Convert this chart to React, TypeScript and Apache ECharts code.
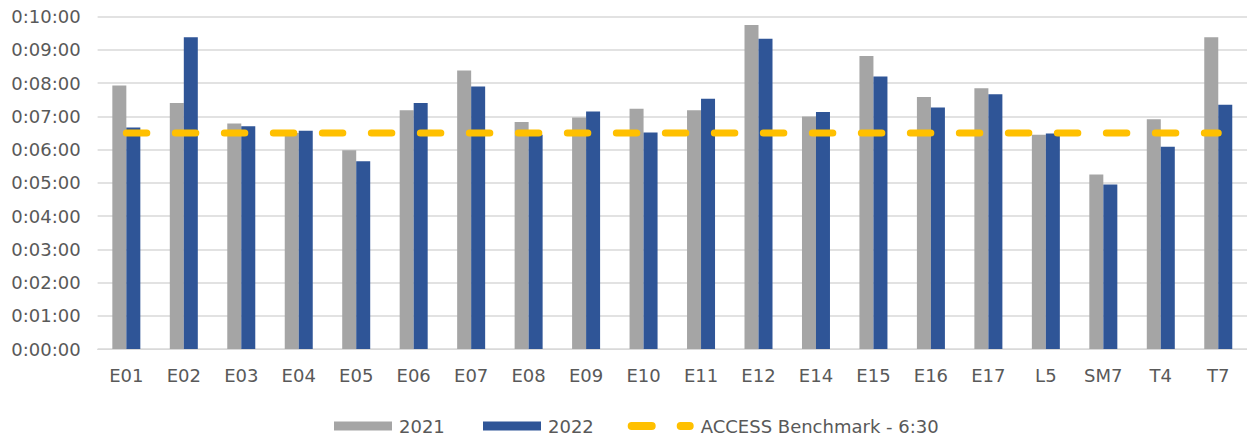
import React, { useEffect, useRef } from "react";
import * as echarts from "echarts";

const categories = ["E01","E02","E03","E04","E05","E06","E07","E08","E09","E10","E11","E12","E14","E15","E16","E17","L5","SM7","T4","T7"];
// values in seconds
const values2021 = [476, 444, 407, 390, 359, 431, 503, 410, 418, 434, 431, 585, 420, 529, 455, 471, 387, 315, 415, 563];
const values2022 = [400, 563, 402, 394, 339, 444, 474, 387, 429, 391, 452, 560, 428, 492, 436, 460, 389, 297, 365, 441];
const benchmark = 390;
const benchmarkValues = categories.map(() => benchmark);
const yTicks = { min: 0, max: 600, interval: 60 };

const fmt = (v: number) => {
  const h = Math.floor(v / 3600);
  const m = Math.floor((v % 3600) / 60);
  const s = Math.round(v % 60);
  return `${h}:${String(m).padStart(2, "0")}:${String(s).padStart(2, "0")}`;
};

const FONT = "DejaVu Sans";
const TXT = "#595959";

export default function App() {
  const ref = useRef<HTMLDivElement>(null);
  useEffect(() => {
    if (!ref.current) return;
    const chart = echarts.init(ref.current, null, { renderer: "svg" });
    const legendText = { color: TXT, fontFamily: FONT, fontSize: 18, padding: [0, 0, 0, 2] };
    chart.setOption({
      animation: false,
      backgroundColor: "#ffffff",
      grid: { left: 97.6, right: -7.4, top: 16.7, bottom: 87 },
      legend: [
        {
          data: ["2021"], left: 329, top: 412, itemWidth: 58, itemHeight: 9,
          icon: "rect", textStyle: legendText, itemGap: 0,
        },
        {
          data: ["2022"], left: 478, top: 412, itemWidth: 58, itemHeight: 9,
          icon: "rect", textStyle: legendText, itemGap: 0,
        },
        {
          data: [{
            name: "ACCESS Benchmark - 6:30",
            icon: "path://M4,0 H24 A4,4 0 0 1 24,8 H4 A4,4 0 0 1 4,0 Z M53,0 H62 A4,4 0 0 1 62,8 H53 A4,4 0 0 1 53,0 Z",
            itemStyle: { color: "#FFC000", borderWidth: 0 },
            lineStyle: { width: 0 },
          }],
          left: 622.7, top: 412, itemWidth: 66, itemHeight: 8, symbolKeepAspect: false,
          textStyle: legendText, itemGap: 0,
        },
      ],
      xAxis: {
        type: "category",
        data: categories,
        axisLine: { lineStyle: { color: "#D9D9D9", width: 1 } },
        axisTick: { show: false },
        axisLabel: { color: TXT, fontFamily: FONT, fontSize: 18, margin: 17 },
      },
      yAxis: {
        type: "value",
        min: yTicks.min,
        max: yTicks.max,
        interval: yTicks.interval,
        axisLine: { show: false },
        axisTick: { show: false },
        splitLine: { lineStyle: { color: "#D9D9D9", width: 1.5 } },
        axisLabel: { color: TXT, fontFamily: FONT, fontSize: 18, margin: 17, formatter: (v: number) => fmt(v) },
      },
      series: [
        {
          name: "2021", type: "bar", data: values2021, barWidth: 14, barGap: "0%",
          itemStyle: { color: "#A5A5A5" },
        },
        {
          name: "2022", type: "bar", data: values2022, barWidth: 14, barGap: "0%",
          itemStyle: { color: "#2F5597" },
        },
        {
          name: "ACCESS Benchmark - 6:30", type: "line", data: benchmarkValues,
          symbol: "none", z: 5, color: "#FFC000",
          itemStyle: { color: "#FFC000" },
          lineStyle: { color: "#FFC000", width: 7, cap: "round", type: [20.5, 28.5] },
        },
      ],
    });
    return () => chart.dispose();
  }, []);
  return <div ref={ref} style={{ width: 1247, height: 436, position: "absolute", left: 0, top: 0 }} />;
}
